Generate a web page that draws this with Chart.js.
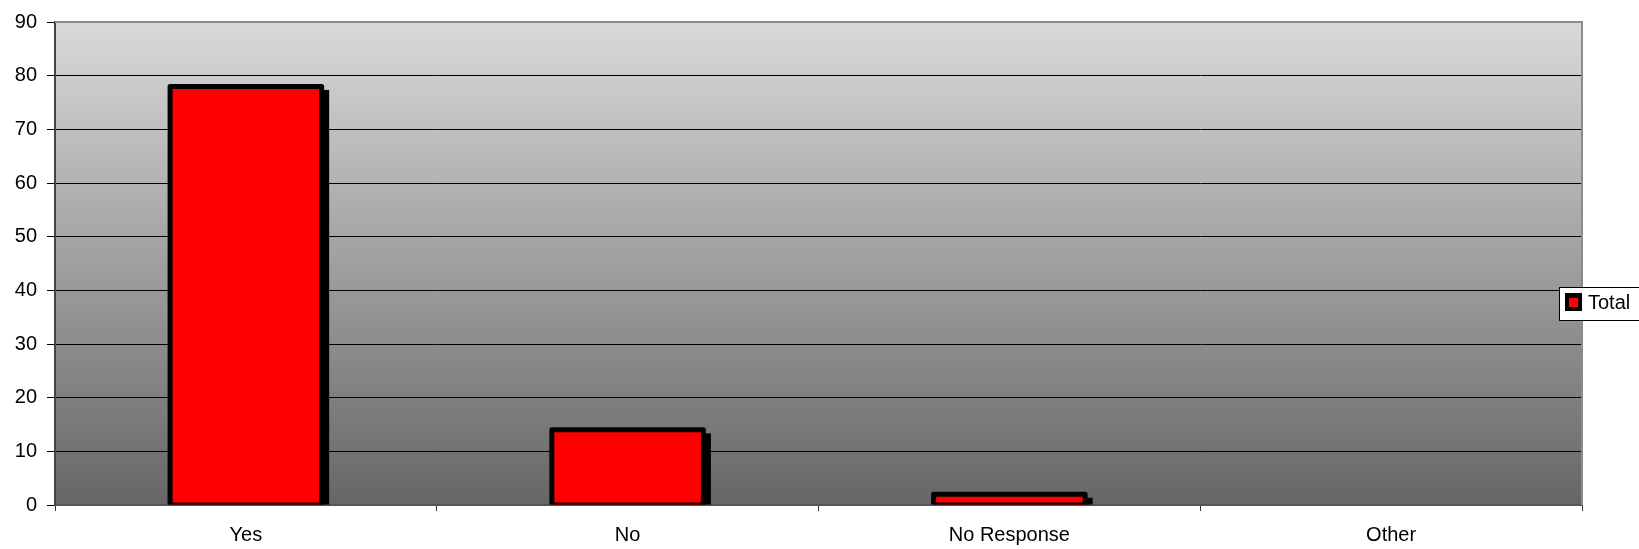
<!DOCTYPE html>
<html>
<head>
<meta charset="utf-8">
<script src="https://cdn.jsdelivr.net/npm/chart.js@4"></script>
<style>
  body { margin: 0; background: #fff; }
  #wrap { width: 1639px; height: 549px; }
</style>
</head>
<body>
<div id="wrap"><canvas id="myChart" width="1639" height="549"></canvas></div>
<script>
// données du graphique
const categories = ['Yes', 'No', 'No Response', 'Other'];
const totals = [78, 14, 2, 0];
const seriesLabel = 'Total';
const yTicks = [0, 10, 20, 30, 40, 50, 60, 70, 80, 90];

const police = 'Arial, "Liberation Sans", sans-serif';

// fond dégradé + bordure haut/droite de la zone de tracé
const fondPlugin = {
  id: 'fond',
  beforeDraw(chart) {
    const { ctx, chartArea: a } = chart;
    const g = ctx.createLinearGradient(0, a.top, 0, a.bottom);
    g.addColorStop(0, '#d9d9d9');
    g.addColorStop(1, '#666666');
    ctx.save();
    ctx.fillStyle = g;
    ctx.fillRect(a.left, a.top, a.right - a.left, a.bottom - a.top);
    ctx.restore();
  },
  afterDatasetsDraw(chart) {
    const { ctx, chartArea: a } = chart;
    ctx.save();
    ctx.strokeStyle = '#8c8c8c';
    ctx.lineWidth = 2;
    ctx.beginPath();
    ctx.moveTo(a.left, a.top);
    ctx.lineTo(a.right, a.top);
    ctx.lineTo(a.right, a.bottom);
    ctx.stroke();
    ctx.restore();
  }
};

// ombre portée des barres (dessous) et contour noir centré sur le bord (dessus)
const contourPlugin = {
  id: 'contour',
  beforeDatasetsDraw(chart) {
    const { ctx } = chart;
    const meta = chart.getDatasetMeta(0);
    ctx.save();
    ctx.fillStyle = '#000';
    meta.data.forEach(bar => {
      const { x, y, base, width } = bar.getProps(['x', 'y', 'base', 'width'], true);
      if (base - y < 1) return;
      const top = y - 2.5 + 6;
      ctx.fillRect(x - width / 2 - 2.5 + 5, top, width + 5, base - top);
    });
    ctx.restore();
  },
  afterDatasetsDraw(chart) {
    const { ctx } = chart;
    const meta = chart.getDatasetMeta(0);
    ctx.save();
    ctx.strokeStyle = '#000';
    ctx.fillStyle = '#000';
    ctx.lineWidth = 5;
    ctx.lineJoin = 'round';
    meta.data.forEach(bar => {
      const { x, y, base, width } = bar.getProps(['x', 'y', 'base', 'width'], true);
      if (base - y < 1) return;
      const l = x - width / 2;
      const r = x + width / 2;
      ctx.beginPath();
      ctx.moveTo(l, base);
      ctx.lineTo(l, y);
      ctx.lineTo(r, y);
      ctx.lineTo(r, base);
      ctx.stroke();
      ctx.fillRect(l, base - 2, width, 2);
    });
    ctx.restore();
  }
};

// légende encadrée à droite
const legendePlugin = {
  id: 'legende',
  afterDraw(chart) {
    const { ctx, chartArea: a } = chart;
    const ds = chart.data.datasets[0];
    const x = a.right - 23;
    const y = 287;
    ctx.save();
    ctx.fillStyle = '#fff';
    ctx.fillRect(x, y, 100, 34);
    ctx.strokeStyle = '#000';
    ctx.lineWidth = 1;
    ctx.strokeRect(x + 0.5, y + 0.5, 100, 33);
    ctx.fillStyle = '#000';
    ctx.fillRect(x + 6, y + 6, 17, 18);
    ctx.fillStyle = ds.backgroundColor;
    ctx.fillRect(x + 10, y + 11, 9, 9);
    ctx.fillStyle = '#000';
    ctx.font = '20px ' + police;
    ctx.textBaseline = 'middle';
    ctx.fillText(ds.label, x + 29, y + 16);
    ctx.restore();
  }
};

const ctx = document.getElementById('myChart').getContext('2d');
const myChart = new Chart(ctx, {
  type: 'bar',
  data: {
    labels: categories,
    datasets: [{
      label: seriesLabel,
      data: totals,
      backgroundColor: '#ff0000',
      borderWidth: 0,
      categoryPercentage: 1,
      barPercentage: 0.397
    }]
  },
  options: {
    responsive: false,
    animation: false,
    layout: { padding: { top: 19, right: 57, left: 0, bottom: 0 } },
    plugins: {
      legend: { display: false },
      tooltip: { enabled: false }
    },
    scales: {
      x: {
        grid: { drawOnChartArea: false, color: '#333', tickLength: 6 },
        border: { color: '#555', width: 2 },
        ticks: { color: '#000', font: { family: police, size: 20 }, padding: 12 },
        afterFit(scale) { scale.height = 44; }
      },
      y: {
        min: 0,
        max: 90,
        afterBuildTicks(scale) { scale.ticks = yTicks.map(v => ({ value: v })); },
        grid: { color: '#000', lineWidth: 1, tickLength: 8 },
        border: { color: '#444', width: 2 },
        ticks: { color: '#000', font: { family: police, size: 20 }, padding: 10 },
        afterFit(scale) { scale.width = 55; }
      }
    }
  },
  plugins: [fondPlugin, contourPlugin, legendePlugin]
});
</script>
</body>
</html>
